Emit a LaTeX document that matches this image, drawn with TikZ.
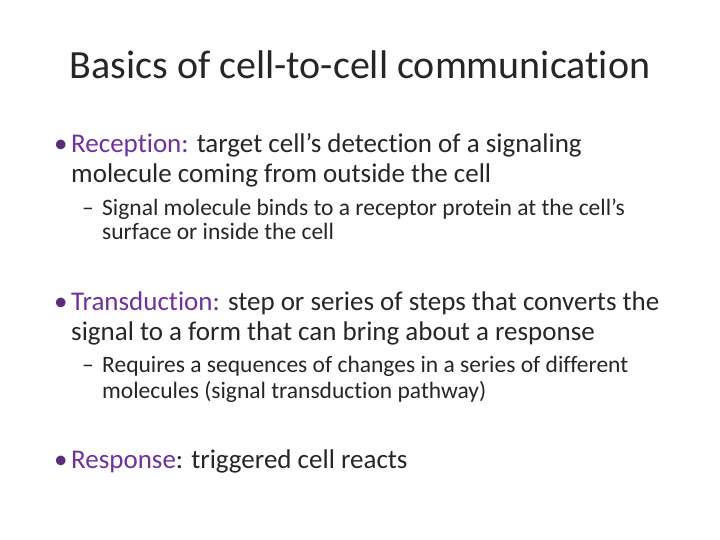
\documentclass[tikz,border=0pt]{standalone}
\usepackage{fontspec}
\setmainfont{Carlito}[Ligatures=NoCommon]
\definecolor{purp}{HTML}{7030A0}
\definecolor{txt}{HTML}{262626}
\begin{document}
\begin{tikzpicture}[x=1pt,y=-1pt,
  t/.style={anchor=base west,inner sep=0pt,text=txt},
  big/.style={t,font=\fontsize{27}{32}\selectfont},
  small/.style={t,font=\fontsize{23.5}{28}\selectfont}]
\useasboundingbox[fill=white] (0,0) rectangle (720,540);
\node[anchor=base,inner sep=0pt,text=txt,font=\fontsize{40}{46}\selectfont] (title) at (360,79) {Basics of cell-to-cell communication};
\node[big,text=purp!70!txt] (b1) at (54,153) {\textbullet};
\node[big] (l1) at (71,153) {\textcolor{purp}{Reception:} target cell’s detection of a signaling};
\node[big] (l2) at (71,183) {molecule coming from outside the cell};
\node[small] (d1) at (82,215) {–};
\node[small] (s1) at (102,215) {Signal molecule binds to a receptor protein at the cell’s};
\node[small] (s2) at (102,240) {surface or inside the cell};
\node[big,text=purp!70!txt] (b2) at (54,310) {\textbullet};
\node[big] (l3) at (71,310) {\textcolor{purp}{Transduction:} step or series of steps that converts the};
\node[big] (l4) at (71,340) {signal to a form that can bring about a response};
\node[small] (d2) at (82,372) {–};
\node[small] (s3) at (102,372) {Requires a sequences of changes in a series of different};
\node[small] (s4) at (102,398) {molecules (signal transduction pathway)};
\node[big,text=purp!70!txt] (b3) at (54,468) {\textbullet};
\node[big] (l5) at (71,468) {\textcolor{purp}{Response}: triggered cell reacts};
\end{tikzpicture}
\end{document}
